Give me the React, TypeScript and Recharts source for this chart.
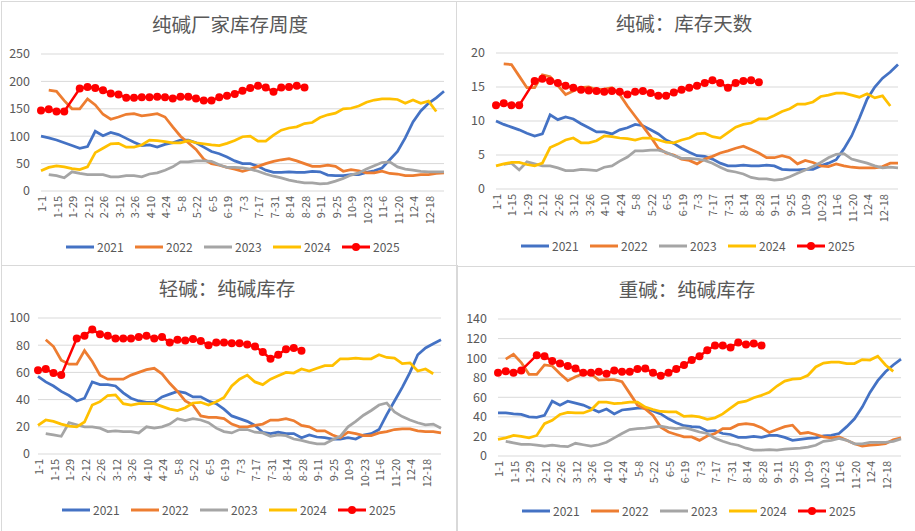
import { LineChart, Line, XAxis, YAxis, CartesianGrid } from 'recharts'

// weekly categories (53 weeks)
const dates = [
  '1-1', '1-8', '1-15', '1-22', '1-29', '2-5', '2-12', '2-19', '2-26', '3-5', '3-12', '3-19', '3-26',
  '4-3', '4-10', '4-17', '4-24', '5-1', '5-8', '5-15', '5-22', '5-29', '6-5', '6-12', '6-19', '6-26',
  '7-3', '7-10', '7-17', '7-24', '7-31', '8-7', '8-14', '8-21', '8-28', '9-4', '9-11', '9-18', '9-25',
  '10-2', '10-9', '10-16', '10-23', '10-30', '11-6', '11-13', '11-20', '11-27', '12-4', '12-11', '12-18', '12-25', '12-31',
]
const years = ['2021', '2022', '2023', '2024', '2025']
const yearColors = ['#4472C4', '#ED7D31', '#A5A5A5', '#FFC000', '#FF0000']

type Val = number | null

// 纯碱厂家库存周度
const plantStock2021: Val[] = [100, 97, 93, 88, 83, 78, 81, 109, 101, 107, 103, 96, 89, 83, 84, 80, 85, 88, 93, 93, 88, 80, 72, 68, 62, 55, 50, 50, 45, 38, 34, 34, 35, 34, 34, 36, 35, 29, 28, 28, 30, 30, 34, 37, 42, 57, 72, 97, 126, 146, 160, 170, 182]
const plantStock2022: Val[] = [null, 184, 182, 165, 150, 150, 168, 157, 140, 131, 135, 140, 141, 137, 139, 141, 135, 117, 100, 88, 76, 58, 50, 47, 43, 40, 36, 40, 45, 50, 54, 57, 59, 55, 50, 45, 45, 47, 45, 36, 39, 37, 33, 33, 36, 32, 31, 28, 28, 30, 30, 32, 33]
const plantStock2023: Val[] = [null, 30, 28, 24, 35, 32, 30, 30, 30, 26, 26, 28, 28, 26, 31, 33, 38, 44, 53, 53, 55, 55, 54, 48, 43, 43, 42, 40, 36, 31, 27, 24, 20, 17, 15, 15, 13, 14, 18, 23, 29, 33, 40, 46, 52, 53, 44, 40, 38, 36, 35, 35, 35]
const plantStock2024: Val[] = [37, 43, 46, 44, 41, 39, 44, 70, 78, 86, 87, 80, 80, 84, 93, 92, 90, 88, 88, 92, 88, 86, 84, 83, 87, 92, 99, 100, 91, 91, 102, 111, 115, 117, 123, 125, 134, 139, 142, 150, 151, 155, 162, 166, 168, 168, 167, 160, 166, 160, 164, 145, null]
const plantStock2025: Val[] = [147, 149, 145, 145, null, 187, 190, 188, 184, 178, 176, 170, 170, 171, 171, 172, 171, 169, 172, 172, 169, 165, 165, 171, 174, 177, 183, 188, 192, 189, 181, 189, 190, 192, 189]

// 纯碱：库存天数
const stockDays2021: Val[] = [10, 9.5, 9.1, 8.7, 8.2, 7.8, 8.1, 10.9, 10.2, 10.6, 10.3, 9.6, 9.0, 8.4, 8.4, 8.1, 8.7, 9.0, 9.5, 9.3, 8.7, 8.1, 7.2, 6.7, 6.0, 5.4, 4.9, 4.8, 4.4, 3.8, 3.4, 3.4, 3.5, 3.4, 3.4, 3.5, 3.4, 2.9, 2.8, 2.8, 2.9, 2.9, 3.4, 3.8, 4.3, 5.9, 7.8, 10.4, 13.2, 15.0, 16.3, 17.2, 18.3]
const stockDays2022: Val[] = [null, 18.4, 18.3, 16.6, 14.9, 14.9, 16.8, 16.5, 15.2, 13.9, 14.4, 14.9, 15.0, 14.6, 14.7, 14.9, 13.9, 12.2, 10.7, 9.2, 7.7, 6.0, 5.3, 5.0, 4.4, 4.2, 3.7, 4.4, 4.8, 5.3, 5.6, 6.0, 6.3, 5.8, 5.3, 4.6, 4.6, 4.9, 4.6, 3.7, 4.2, 3.9, 3.4, 3.3, 3.7, 3.4, 3.2, 3.1, 3.1, 3.1, 3.3, 3.8, 3.8]
const stockDays2023: Val[] = [null, 3.6, 3.8, 2.8, 4.0, 3.7, 3.4, 3.4, 3.1, 2.7, 2.7, 2.9, 2.8, 2.7, 3.2, 3.4, 4.1, 4.7, 5.6, 5.6, 5.7, 5.7, 5.4, 4.9, 4.5, 4.5, 4.4, 4.2, 3.8, 3.2, 2.7, 2.5, 2.2, 1.7, 1.5, 1.5, 1.3, 1.4, 1.8, 2.3, 2.8, 3.3, 3.9, 4.6, 5.1, 5.2, 4.4, 4.1, 3.8, 3.4, 3.1, 3.2, 3.1]
const stockDays2024: Val[] = [3.4, 3.7, 3.9, 3.9, 3.6, 3.4, 3.8, 6.1, 6.6, 7.2, 7.5, 6.8, 6.8, 7.1, 7.8, 7.7, 7.5, 7.4, 7.2, 7.5, 7.5, 7.2, 6.9, 6.8, 7.2, 7.5, 8.1, 8.2, 7.7, 7.5, 8.3, 9.1, 9.5, 9.7, 10.3, 10.3, 10.8, 11.4, 11.8, 12.5, 12.5, 12.8, 13.6, 13.8, 14.1, 14.1, 13.8, 13.5, 14.0, 13.4, 13.7, 12.2, null]
const stockDays2025: Val[] = [12.3, 12.6, 12.3, 12.3, null, 15.9, 16.2, 15.9, 15.6, 15.2, 14.9, 14.6, 14.5, 14.4, 14.3, 14.4, 14.3, 13.9, 14.3, 14.4, 14.1, 13.7, 13.7, 14.2, 14.6, 14.9, 15.2, 15.6, 16.0, 15.6, 14.9, 15.6, 15.9, 16.0, 15.7]

// 轻碱：纯碱库存
const lightStock2021: Val[] = [57, 53, 50, 46, 43, 39, 41, 53, 51, 51, 50, 45, 41, 39, 38, 38, 42, 44, 46, 45, 42, 42, 39, 37, 33, 28, 26, 24, 21, 16, 15, 16, 15, 15, 12, 14, 12.5, 12, 11, 11, 12, 11, 14, 15, 18, 29, 39, 49, 60, 73, 78, 81, 84]
const lightStock2022: Val[] = [null, 84, 79, 69, 66, 66, 76, 68, 58, 55, 55, 55, 58, 60, 62, 63, 59, 52, 46, 39, 36, 28, 27, 27, 26, 22, 20, 20, 21, 22, 25, 25, 26, 24.5, 21, 20, 17, 17, 14, 12, 16, 15, 13.5, 13.5, 15.5, 16.5, 18, 18.5, 18.5, 17, 16.5, 16.5, 15.5]
const lightStock2023: Val[] = [null, 15, 14, 13, 23, 21.5, 20, 20, 19, 16.5, 17, 16.5, 16.5, 15.5, 20, 19, 20, 22, 26, 24.5, 26, 25, 23, 19, 16.5, 15.5, 18, 18, 16, 15.5, 13, 14, 13.5, 11, 10, 8.5, 7.5, 7.5, 10.5, 13, 20, 24, 28.5, 32, 36, 37.5, 31, 27.5, 25, 23, 21.5, 22, 19]
const lightStock2024: Val[] = [21, 25, 24, 22, 20.5, 20, 23.5, 36, 38.5, 43, 43.5, 37, 36, 37, 37, 37, 35, 33, 32, 34, 37.5, 38, 36, 38.5, 41.5, 50, 55, 58, 53, 51, 55, 57.5, 60, 59.5, 62.5, 61, 63, 65, 65, 70, 70, 70.5, 70, 70, 73, 71, 70.5, 66.5, 67, 61, 62.5, 59, null]
const lightStock2025: Val[] = [61.5, 62.5, 59.5, 58, null, 85, 87, 91.5, 88, 87, 85, 85, 85, 86, 87, 85, 86, 82, 84, 83.5, 84.5, 83, 80, 82, 82, 81.5, 81.5, 80.5, 79, 75, 70, 73, 77, 78, 76]

// 重碱：纯碱库存
const denseStock2021: Val[] = [44, 44, 43, 42.5, 40, 39.5, 41.5, 56, 52, 56, 54, 52, 48.5, 45, 48, 43, 47, 48, 49, 49, 46, 43, 38, 34, 31, 30, 29.5, 25.5, 26, 23, 22, 19, 19, 20, 19, 21, 21, 19, 16, 17, 18, 18.5, 20.5, 21, 23, 30, 38, 50, 65, 77, 86, 93, 99]
const denseStock2022: Val[] = [null, 99, 104, 95.5, 83.5, 83.5, 93, 92, 84, 77, 81, 84, 84, 77.5, 78, 78, 76, 64, 52, 48, 41.5, 29.5, 24.5, 22, 19.5, 19.5, 16, 20.5, 23, 28, 28, 32, 33, 32, 29, 24, 27, 30, 31.5, 23, 24, 22, 19.5, 18.5, 19.5, 16, 12.5, 10, 11, 11.5, 12.5, 16.5, 18.5]
const denseStock2023: Val[] = [null, 15, 13.5, 12, 12, 11, 10, 11, 10, 9.5, 13, 11.5, 10, 11.5, 14, 18.5, 23, 27, 28, 28.5, 29.5, 30.5, 29, 28, 29, 27, 24.5, 23, 18, 15, 12.5, 11, 8, 6, 6, 6.5, 6, 7, 7.5, 8, 9, 11, 15, 16, 18, 16, 12.5, 12.5, 14, 14, 14, 15, 17.5]
const denseStock2024: Val[] = [17, 18.5, 21, 20, 18.5, 21, 33, 36.5, 42.5, 44.5, 44, 44, 47, 55, 55, 53.5, 54, 55, 55, 50, 47.5, 45.5, 45, 45, 40.5, 41, 40, 37.5, 39, 43, 49, 54.5, 56, 59.5, 62, 65, 71.5, 76.5, 78.5, 79, 82.5, 91, 95, 96, 96, 94.5, 94.5, 98.5, 98, 102, 93, 86.5, null]
const denseStock2025: Val[] = [85, 86.5, 85, 87.5, null, 103, 102, 97, 94.5, 92, 89.5, 85, 85, 86, 84, 87.5, 86, 86, 89, 89.5, 85, 82, 85, 89, 93, 98, 102, 108, 113, 113, 111, 116, 114, 115, 113]

const FONT = '"Noto Sans CJK SC", "Noto Sans", sans-serif'
const TEXT = '#595959'
const GRID = '#d9d9d9'

function toRows(series: Val[][]) {
  return dates.map((d, i) => {
    const row: Record<string, string | Val> = { date: d }
    years.forEach((y, k) => { row[y] = series[k][i] ?? null })
    return row
  })
}

// every other label, last week unlabeled (as in the source)
function renderXTick(props: any) {
  const { x, y, payload, index } = props
  if (index % 2 === 1 || index === dates.length - 1) return <g />
  return (
    <text
      x={x} y={y}
      transform={`rotate(-90 ${x} ${y})`}
      textAnchor="end"
      dominantBaseline="central"
      fill={TEXT}
      fontSize={11}
      fontFamily={FONT}
    >
      {payload.value}
    </text>
  )
}

interface PanelCfg {
  title: string
  box: { x: number; y: number; w: number; h: number }
  plot: { l: number; r: number; t: number; b: number }
  titleX: number
  titleY: number
  legendX: number
  legendY: number
  yTicks: number[]
  yGap: number
  series: Val[][]
}

const panels: PanelCfg[] = [
  {
    title: '纯碱厂家库存周度',
    box: { x: 1, y: 1, w: 455, h: 264 },
    plot: { l: 41, r: 444, t: 54, b: 191 },
    titleX: 230, titleY: 24, legendX: 66, legendY: 247,
    yTicks: [0, 50, 100, 150, 200, 250], yGap: 11,
    series: [plantStock2021, plantStock2022, plantStock2023, plantStock2024, plantStock2025],
  },
  {
    title: '纯碱：库存天数',
    box: { x: 456, y: 1, w: 459, h: 264 },
    plot: { l: 496, r: 898, t: 53, b: 189 },
    titleX: 684, titleY: 23, legendX: 521, legendY: 246,
    yTicks: [0, 5, 10, 15, 20], yGap: 11,
    series: [stockDays2021, stockDays2022, stockDays2023, stockDays2024, stockDays2025],
  },
  {
    title: '轻碱：纯碱库存',
    box: { x: 1, y: 265, w: 455, h: 266 },
    plot: { l: 38, r: 441, t: 318, b: 454 },
    titleX: 227, titleY: 288, legendX: 62, legendY: 510,
    yTicks: [0, 20, 40, 60, 80, 100], yGap: 8,
    series: [lightStock2021, lightStock2022, lightStock2023, lightStock2024, lightStock2025],
  },
  {
    title: '重碱：纯碱库存',
    box: { x: 456, y: 266, w: 459, h: 265 },
    plot: { l: 498, r: 901, t: 319, b: 456 },
    titleX: 687, titleY: 289, legendX: 522, legendY: 511,
    yTicks: [0, 20, 40, 60, 80, 100, 120, 140], yGap: 11,
    series: [denseStock2021, denseStock2022, denseStock2023, denseStock2024, denseStock2025],
  },
]

function YearLegend({ x, y }: { x: number; y: number }) {
  return (
    <div style={{ position: 'absolute', left: x, top: y - 9, height: 18, display: 'flex' }}>
      {years.map((yr, k) => (
        <div key={yr} style={{ width: 69, display: 'flex', alignItems: 'center' }}>
          <svg width={28} height={10}>
            <line x1={0} y1={5} x2={28} y2={5} stroke={yearColors[k]} strokeWidth={3} />
            {yr === '2025' && <circle cx={14} cy={5} r={4} fill={yearColors[k]} />}
          </svg>
          <span style={{ marginLeft: 3, fontSize: 12, color: TEXT, fontFamily: FONT, lineHeight: '18px' }}>{yr}</span>
        </div>
      ))}
    </div>
  )
}

function Panel({ cfg }: { cfg: PanelCfg }) {
  const { box, plot } = cfg
  const xAxisH = 45
  const margin = {
    top: plot.t - box.y,
    right: box.x + box.w - plot.r,
    left: 0,
    bottom: box.y + box.h - plot.b - xAxisH,
  }
  const rows = toRows(cfg.series)
  const yMax = cfg.yTicks[cfg.yTicks.length - 1]

  return (
    <>
      <div
        style={{
          position: 'absolute', left: cfg.titleX - 150, top: cfg.titleY - 14, width: 300,
          textAlign: 'center', fontSize: 19.5, lineHeight: '28px', color: TEXT, fontFamily: FONT,
        }}
      >
        {cfg.title}
      </div>
      <div style={{ position: 'absolute', left: box.x, top: box.y }}>
        <LineChart width={box.w} height={box.h} data={rows} margin={margin}>
          <CartesianGrid vertical={false} stroke={GRID} />
          <XAxis
            dataKey="date"
            interval={0}
            tick={renderXTick}
            tickLine={false}
            axisLine={false}
            tickSize={0}
            tickMargin={5}
            height={xAxisH}
          />
          <YAxis
            width={plot.l - box.x}
            domain={[0, yMax]}
            ticks={cfg.yTicks}
            interval={0}
            tickSize={0}
            tickMargin={cfg.yGap}
            tickLine={false}
            axisLine={false}
            tick={{ fill: TEXT, fontSize: 12.5, fontFamily: FONT }}
          />
          {years.map((yr, k) => (
            <Line
              key={yr}
              dataKey={yr}
              type="linear"
              stroke={yearColors[k]}
              strokeWidth={yr === '2025' ? 2.5 : 2.75}
              dot={yr === '2025' ? { r: 4, fill: yearColors[k], stroke: 'none' } : false}
              activeDot={false}
              connectNulls={yr === '2025'}
              isAnimationActive={false}
            />
          ))}
        </LineChart>
      </div>
      <YearLegend x={cfg.legendX} y={cfg.legendY} />
    </>
  )
}

export default function App() {
  return (
    <div style={{ position: 'absolute', left: 0, top: 0, width: 915, height: 531, background: '#fff', overflow: 'hidden' }}>
      {/* panel borders */}
      <div style={{ position: 'absolute', left: 1, top: 1, width: 914, height: 1, background: GRID }} />
      <div style={{ position: 'absolute', left: 1, top: 1, width: 1, height: 530, background: GRID }} />
      <div style={{ position: 'absolute', left: 456, top: 1, width: 1, height: 264, background: GRID }} />
      <div style={{ position: 'absolute', left: 456, top: 265, width: 2, height: 266, background: GRID }} />
      <div style={{ position: 'absolute', left: 1, top: 265, width: 455, height: 1, background: GRID }} />
      <div style={{ position: 'absolute', left: 457, top: 266, width: 458, height: 1, background: GRID }} />
      {panels.map((p) => <Panel key={p.title} cfg={p} />)}
    </div>
  )
}
